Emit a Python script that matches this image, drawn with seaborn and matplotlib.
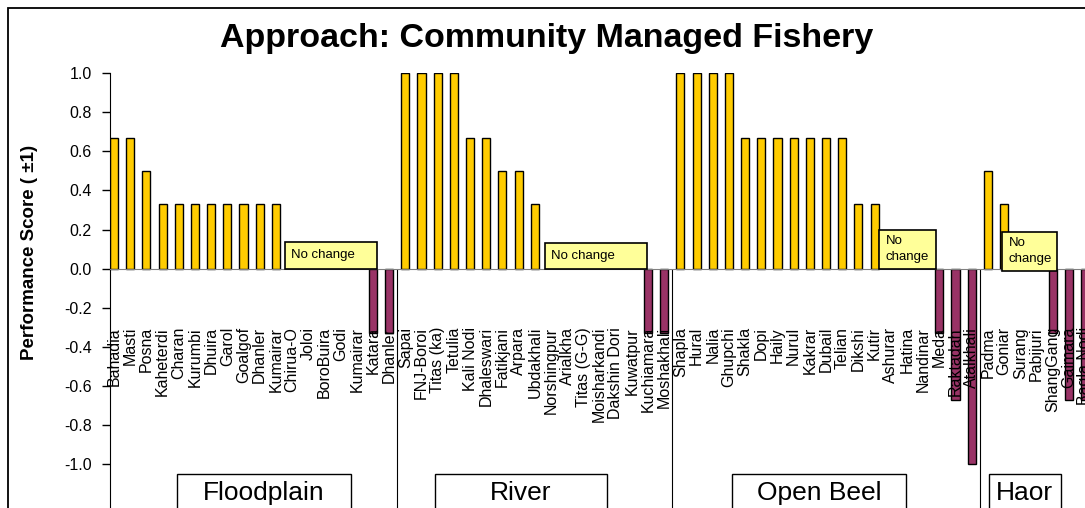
import numpy as np
import pandas as pd
import seaborn as sns
import matplotlib.pyplot as plt
from matplotlib.patches import Rectangle

floodplain = ["Bahadia", "Masti", "Posna", "Kaheterdi", "Charan", "Kurumbi", "Dhuira", "Garol",
              "Goalgof", "Dhanler", "Kumairar", "Chirua-O", "Joloi", "BoroBuira", "Godi", "Kumairar",
              "Katara", "Dhanler"]
floodplain_score = [0.67, 0.67, 0.5, 0.33, 0.33, 0.33, 0.33, 0.33, 0.33, 0.33, 0.33,
                    0, 0, 0, 0, 0, -0.33, -0.33]

river = ["Sapai", "FNJ-Boroi", "Titas (ka)", "Tetulia", "Kali Nodi", "Dhaleswari", "Fatikjani",
         "Arpara", "Ubdakhali", "Norshingpur", "Arialkha", "Titas (G-G)", "Moisharkandi",
         "Dakshin Dori", "Kuwatpur", "Kuchiamara", "Moshakhali"]
river_score = [1, 1, 1, 1, 0.67, 0.67, 0.5, 0.5, 0.33, 0, 0, 0, 0, 0, 0, -0.33, -0.33]

open_beel = ["Shapla", "Hural", "Nalia", "Ghupchi", "Shakla", "Dopi", "Haily", "Nurul", "Kakrar",
             "Dubail", "Telian", "Dikshi", "Kutir", "Ashurar", "Hatina", "Nandinar", "Meda",
             "Raktadah", "Atalkhali"]
open_beel_score = [1, 1, 1, 1, 0.67, 0.67, 0.67, 0.67, 0.67, 0.67, 0.67, 0.33, 0.33,
                   0, 0, 0, -0.33, -0.67, -1.0]

haor = ["Padma", "Goniar", "Surang", "Pabijuri", "ShangGang", "Gaimara", "Bagla Nodi"]
haor_score = [0.5, 0.33, 0, 0, -0.33, -0.67, -0.67]

groups = ["Floodplain", "River", "Open Beel", "Haor"]

names = floodplain + river + open_beel + haor
scores = floodplain_score + river_score + open_beel_score + haor_score
n = len(names)

df = pd.DataFrame({"pos": range(n), "name": names, "score": scores})
df["sign"] = np.where(df["score"] > 0, "pos", "neg")
bars = df[df["score"] != 0]

plt.rcParams["font.family"] = ["Liberation Sans", "DejaVu Sans"]
plt.rcParams["axes.unicode_minus"] = False

fig = plt.figure(figsize=(10.85, 5.08), dpi=100)
ax = fig.add_axes([110 / 1085, 0, 1 - 110 / 1085, 1 - 73 / 508])

sns.barplot(data=bars, x="pos", y="score", hue="sign", order=list(range(n)),
            palette={"pos": "#FFCC00", "neg": "#993366"}, width=0.5, saturation=1,
            edgecolor="black", linewidth=1, legend=False, ax=ax)

ax.set_xlim(-0.25, 59.85)
ax.set_ylim(-1.2225, 1.0)
yt = np.round(np.arange(-1.0, 1.01, 0.2), 1)
ax.tick_params(axis="y", direction="out", length=6, width=1, pad=7, labelsize=11.5)
ax.set_yticks(yt)
ax.set_yticklabels([f"{abs(v):.1f}" if v == 0 else f"{v:.1f}" for v in yt])

ax.tick_params(axis="x", length=0, pad=42, labelrotation=90, labelsize=11.5)
ax.set_xticks(range(n))
ax.set_xticklabels(names, fontsize=11.5, rotation=90, va="top", ha="center")
ax.set_xlabel("")
ax.set_ylabel("Performance Score ( ±1)", fontsize=13.5, fontweight="bold")
ax.yaxis.set_label_coords(-0.074, 0.588)

for s in ["top", "right"]:
    ax.spines[s].set_visible(False)
ax.spines["bottom"].set_position(("data", 0))
ax.spines["bottom"].set_color("#808080")
ax.spines["left"].set_color("black")
ax.patch.set_alpha(0)

# group separators
group_sizes = [len(floodplain), len(river), len(open_beel), len(haor)]
edges = np.cumsum(group_sizes)[:-1] - 0.5
ax.vlines(edges, -1.3, 0, color="black", lw=0.8, clip_on=False)

# "No change" boxes
nc_boxes = [(10.56, 16.23, 0.0, 0.138, "No change"),
            (26.6, 32.96, 0.0, 0.133, "No change"),
            (47.3, 50.8, 0.0, 0.2, "No\nchange"),
            (54.9, 58.3, -0.01, 0.19, "No\nchange")]
for x0, x1, y0, y1, txt in nc_boxes:
    ax.add_patch(Rectangle((x0, y0), x1 - x0, y1 - y0, facecolor="#FFFF99",
                           edgecolor="black", lw=1.2, zorder=5))
    ax.text(x0 + 0.4, (y0 + y1) / 2, txt, fontsize=9.5, ha="left", va="center",
            linespacing=1.4, zorder=6)

# group label boxes
g_boxes = [(3.88, 14.66), (19.83, 30.48), (38.18, 48.95), (54.06, 58.5)]
for (x0, x1), g in zip(g_boxes, groups):
    ax.add_patch(Rectangle((x0, -1.3), x1 - x0, 1.3 - 1.049, facecolor="white",
                           edgecolor="black", lw=1, zorder=5, clip_on=False))
    ax.text((x0 + x1) / 2, -1.145, g, fontsize=19, ha="center", va="center",
            zorder=6, clip_on=False)

fig.text(0.504, 1 - 38 / 508, "Approach: Community Managed Fishery",
         fontsize=24.5, fontweight="bold", ha="center", va="center")

fig.patches.append(Rectangle((8 / 1085, -0.1), 1.2, 1.1 - 8 / 508,
                             transform=fig.transFigure, fill=False,
                             edgecolor="black", lw=1.3))

fig.savefig("out.png", dpi=100)
